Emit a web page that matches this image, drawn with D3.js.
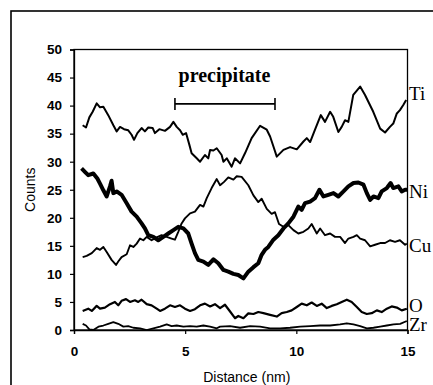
<!DOCTYPE html>
<html><head><meta charset="utf-8">
<script src="https://cdn.jsdelivr.net/npm/d3@7"></script>
<style>html,body{margin:0;padding:0;background:#fff;}svg{display:block;}</style>
</head><body>
<svg id="c" width="433" height="385"></svg>
<script>
// ---- data ----
const xTicks = [0, 5, 10, 15];
const yTicks = [0, 5, 10, 15, 20, 25, 30, 35, 40, 45, 50];
const xTitle = "Distance (nm)";
const yTitle = "Counts";

const tiX = [0.39,0.54,0.69,0.84,1.02,1.17,1.32,1.54,1.77,1.92,2.07,2.25,2.44,2.59,2.7,2.85,3.04,3.19,3.34,3.54,3.64,3.84,4.09,4.32,4.47,4.62,4.77,4.89,5.04,5.19,5.29,5.52,5.67,5.89,6.04,6.12,6.27,6.42,6.64,6.72,6.87,7.09,7.24,7.47,7.69,7.99,8.37,8.67,8.82,8.97,9.12,9.42,9.72,10.02,10.32,10.47,10.62,10.84,11.1,11.29,11.52,11.66,11.89,12.04,12.19,12.34,12.56,12.87,13.09,13.46,13.77,13.99,14.21,14.36,14.52,14.66,14.81,14.94];
const tiY = [36.5,36.1,37.9,38.9,40.4,39.7,39.8,38.3,36.5,35.4,36.2,35.8,35.6,34.8,33.9,35.1,36.0,35.4,36.1,36.0,35.1,35.8,35.5,36.2,37.1,36.2,35.6,34.8,35.1,33.0,31.5,30.6,30.0,31.2,30.6,32.1,32.0,32.4,31.2,30.0,30.6,29.1,30.6,29.7,31.5,34.2,36.4,35.7,34.5,32.7,30.9,32.1,32.6,32.2,33.6,34.2,33.5,35.7,38.3,37.1,38.9,38.0,35.3,36.2,37.4,37.1,41.9,43.4,41.9,38.9,35.9,35.2,36.2,36.8,38.6,39.2,40.1,41.0];

const niX = [0.34,0.49,0.64,0.87,1.05,1.17,1.32,1.47,1.62,1.69,1.77,1.92,2.14,2.37,2.59,2.82,3.04,3.19,3.34,3.57,3.79,4.02,4.24,4.47,4.69,4.92,5.14,5.29,5.44,5.59,5.82,6.04,6.27,6.49,6.72,6.94,7.17,7.39,7.62,7.84,8.07,8.29,8.44,8.59,8.74,8.97,9.19,9.42,9.64,9.87,10.09,10.24,10.39,10.62,10.84,11.04,11.22,11.44,11.67,11.89,12.12,12.34,12.57,12.79,13.02,13.17,13.32,13.47,13.69,13.84,14.07,14.24,14.36,14.59,14.74,14.89,14.99];
const niY = [28.8,28.2,27.6,27.9,27.0,26.1,24.9,23.8,25.6,26.6,24.4,24.7,24.1,22.6,21.1,20.2,19.0,18.1,16.9,16.6,16.0,16.6,17.2,17.8,18.4,18.1,17.2,15.4,13.7,12.5,12.2,11.6,12.6,11.9,10.7,10.4,10.0,9.8,9.2,10.4,11.2,11.9,13.4,14.3,14.8,16.1,16.9,18.1,19.0,20.2,22.0,21.4,22.6,22.9,23.5,25.0,23.8,24.1,24.4,23.8,24.7,25.6,26.2,26.3,25.9,24.4,23.2,23.8,23.5,24.7,25.3,26.2,25.3,25.6,24.7,25.0,25.0];

const cuX = [0.39,0.57,0.8,1.02,1.17,1.32,1.47,1.69,1.89,1.99,2.14,2.37,2.52,2.67,2.82,2.97,3.12,3.27,3.49,3.72,3.94,4.17,4.39,4.54,4.69,4.84,4.99,5.22,5.44,5.67,5.82,5.97,6.19,6.42,6.57,6.75,6.94,7.17,7.32,7.54,7.84,8.07,8.29,8.44,8.67,8.89,9.04,9.22,9.42,9.64,9.87,10.09,10.32,10.54,10.69,10.92,11.07,11.29,11.52,11.74,11.97,12.19,12.34,12.57,12.72,12.87,13.09,13.32,13.54,13.77,13.99,14.21,14.44,14.66,14.89,14.97];
const cuY = [13.0,13.2,13.7,14.6,14.3,14.8,13.9,12.5,11.6,12.2,13.0,13.5,15.1,14.8,15.4,16.3,16.0,16.6,16.0,16.5,16.9,16.6,16.3,16.1,17.5,19.0,19.9,20.8,21.1,22.3,22.0,23.5,25.3,26.9,25.8,26.4,27.2,26.8,27.4,27.3,25.8,24.0,22.8,23.4,21.6,20.7,21.0,18.9,18.4,18.7,17.8,17.2,17.5,18.1,18.9,17.2,18.1,16.9,17.2,16.6,16.6,15.5,16.3,16.6,16.9,16.3,16.0,14.9,15.2,15.5,15.5,16.0,15.7,16.0,15.2,15.4];

const oX = [0.39,0.64,0.8,1.02,1.17,1.39,1.62,1.84,1.99,2.14,2.34,2.52,2.74,2.89,3.04,3.27,3.49,3.72,3.87,4.09,4.32,4.54,4.77,4.99,5.22,5.44,5.67,5.89,6.12,6.34,6.57,6.79,7.02,7.24,7.39,7.62,7.84,8.07,8.29,8.52,8.82,9.12,9.34,9.57,9.79,10.02,10.24,10.47,10.69,10.92,11.14,11.37,11.59,11.82,12.04,12.27,12.49,12.72,12.94,13.17,13.39,13.62,13.84,14.07,14.29,14.52,14.74,14.97];
const oY = [3.4,3.8,3.4,4.3,3.8,4.0,4.6,5.0,4.4,5.2,5.5,5.0,5.3,5.0,5.4,4.6,4.4,3.8,3.4,3.8,4.4,4.1,4.4,3.8,3.4,3.7,4.4,4.7,4.2,4.6,3.9,4.5,3.3,2.1,2.5,2.1,2.96,2.85,3.2,3.0,2.7,2.4,3.0,3.2,3.5,4.1,4.7,4.4,4.9,4.3,4.7,3.9,4.3,4.6,5.0,5.4,5.0,4.1,3.2,2.85,3.0,3.5,3.2,3.8,4.2,4.0,3.5,3.8];

const zrX = [0.39,0.54,0.69,0.87,1.1,1.32,1.54,1.77,1.99,2.22,2.44,2.67,2.97,3.27,3.57,3.87,4.17,4.39,4.62,4.92,5.22,5.52,5.82,6.12,6.42,6.57,7.02,7.47,7.92,8.37,8.82,9.27,9.72,10.17,10.62,11.07,11.52,11.97,12.27,12.57,12.87,13.17,13.47,13.77,14.07,14.37,14.67,14.97];
const zrY = [1.1,0.8,0.1,0.0,0.6,0.8,1.1,1.4,1.1,0.6,0.7,0.4,0.3,0.0,0.3,0.6,1.0,0.7,0.8,0.6,0.7,0.6,0.8,0.6,0.3,0.6,0.7,0.4,0.7,0.6,0.3,0.3,0.4,0.6,0.7,0.8,0.8,1.0,1.2,1.0,0.7,0.3,0.4,0.6,0.8,1.0,1.1,1.6];

const seriesNames = ["Ti", "Ni", "Cu", "O", "Zr"];
const seriesX = [tiX, niX, cuX, oX, zrX];
const seriesY = [tiY, niY, cuY, oY, zrY];
const seriesWidth = [2.0, 4.0, 1.9, 2.2, 1.8];
const labelY = [42.2, 24.8, 15.2, 4.5, 1.1];

const precipText = "precipitate";
const precipRange = [4.54, 9.04];
const precipLevel = 40.3;

// ---- drawing ----
const svg = d3.select("#c");
const L = 74, R = 407.5, T = 49.5, B = 330;
const x = d3.scaleLinear().domain([0, 15]).range([L, R]);
const y = d3.scaleLinear().domain([0, 50]).range([B, T]);

// outer frame
svg.append("rect").attr("x", 11).attr("y", 11).attr("width", 600).attr("height", 600)
  .attr("fill", "none").attr("stroke", "#000").attr("stroke-width", 1.6);

// plot box
svg.append("rect").attr("x", L).attr("y", T).attr("width", R - L).attr("height", B - T)
  .attr("fill", "none").attr("stroke", "#000").attr("stroke-width", 1.3);

const sans = "'Liberation Sans', Arial, sans-serif";
const serif = "'Liberation Serif', 'Times New Roman', serif";

const yAxis = svg.append("g").attr("transform", `translate(${L},0)`)
  .call(d3.axisLeft(y).tickValues(yTicks).tickSize(4).tickPadding(8).tickFormat(d3.format("d")));
const xAxis = svg.append("g").attr("transform", `translate(0,${B})`)
  .call(d3.axisBottom(x).tickValues(xTicks).tickSize(4).tickPadding(12).tickFormat(d3.format("d")));
[yAxis, xAxis].forEach(a => {
  a.select(".domain").attr("stroke", "#000").attr("stroke-width", 1.3);
  a.selectAll(".tick line").attr("stroke", "#000").attr("stroke-width", 1.2);
  a.selectAll("text").attr("font-family", sans).attr("font-size", 13.5)
    .attr("font-weight", "bold").attr("fill", "#000");
});

// axis titles
svg.append("text").attr("x", (L + R) / 2 + 6).attr("y", 382).attr("text-anchor", "middle")
  .attr("font-family", sans).attr("font-size", 14).text(xTitle);
svg.append("text").attr("transform", `translate(35,${(T + B) / 2 + 0}) rotate(-90)`)
  .attr("text-anchor", "middle").attr("font-family", sans).attr("font-size", 14).text(yTitle);

// series
seriesNames.forEach((name, i) => {
  const pts = seriesX[i].map((v, j) => [v, seriesY[i][j]]);
  svg.append("path").datum(pts)
    .attr("d", d3.line().x(d => x(d[0])).y(d => y(d[1])))
    .attr("fill", "none").attr("stroke", "#000")
    .attr("stroke-width", seriesWidth[i]).attr("stroke-linejoin", "round");
  svg.append("text").attr("x", R + 1.5).attr("y", y(labelY[i]) + 7)
    .attr("font-family", serif).attr("font-size", 19).attr("fill", "#000").text(name);
});

// precipitate annotation
const py = y(precipLevel);
svg.append("line").attr("x1", x(precipRange[0])).attr("x2", x(precipRange[1]))
  .attr("y1", py).attr("y2", py).attr("stroke", "#000").attr("stroke-width", 1.6);
precipRange.forEach(v => {
  svg.append("line").attr("x1", x(v)).attr("x2", x(v)).attr("y1", py - 6).attr("y2", py + 6)
    .attr("stroke", "#000").attr("stroke-width", 1.6);
});
svg.append("text").attr("x", (x(precipRange[0]) + x(precipRange[1])) / 2 - 0.5).attr("y", 82)
  .attr("text-anchor", "middle").attr("font-family", serif).attr("font-size", 20)
  .attr("font-weight", "bold").text(precipText);
</script>
</body></html>
